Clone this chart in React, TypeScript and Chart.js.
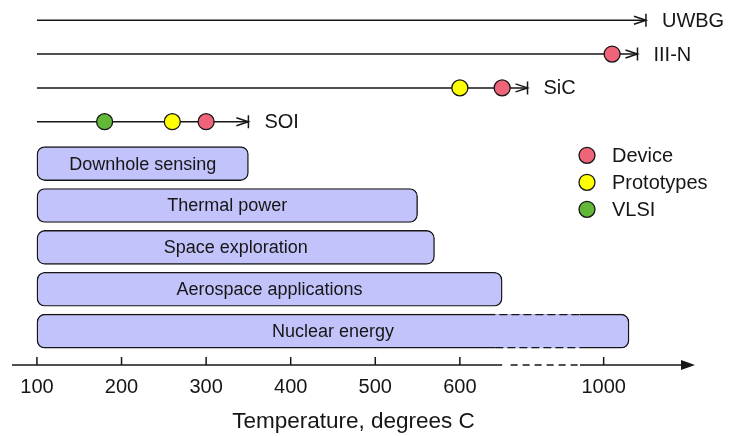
import React, { useEffect, useRef } from 'react';
import { Chart, registerables } from 'chart.js';

Chart.register(...registerables);

// ---------- data ----------
const APPLICATIONS = ['Downhole sensing', 'Thermal power', 'Space exploration', 'Aerospace applications', 'Nuclear energy'];
const APP_FROM = [100, 100, 100, 100, 100];
const APP_TO = [350, 550, 570, 650, 1030];

const TECHNOLOGIES = ['UWBG', 'III-N', 'SiC', 'SOI'];
const TECH_FROM = [100, 100, 100, 100];
const TECH_TO = [1050, 1040, 680, 350];

const DEVICE_TECH = ['III-N', 'SiC', 'SOI'];
const DEVICE_TEMP = [1010, 650, 300];
const PROTO_TECH = ['SiC', 'SOI'];
const PROTO_TEMP = [600, 260];
const VLSI_TECH = ['SOI'];
const VLSI_TEMP = [180];

const TICK_TEMPS = [100, 200, 300, 400, 500, 600, 1000];

// ---------- styling / axis break ----------
const FONT = "'Liberation Sans', Arial, Helvetica, sans-serif";
const INK = '#161616';
const BAR_FILL = '#c3c3fb';
const RED = '#f0647a';
const YELLOW = '#ffff00';
const GREEN = '#63b83a';

const BREAK_SHIFT = 230; // temperatures above the break are shifted left
const toAxis = (t: number) => (t > 800 ? t - BREAK_SHIFT : t);
const BREAK_START = 650;
const BREAK_DASH_START = 660;
const BREAK_END = 742;

const techRow = (name: string) => {
  const i = TECHNOLOGIES.indexOf(name);
  return 5 + (TECHNOLOGIES.length - 1 - i) * 0.8076;
};
const appRow = (i: number) => APPLICATIONS.length - 1 - i;

const decorPlugin = {
  id: 'decor',
  afterDatasetsDraw(chart: any) {
    const ctx = chart.ctx as CanvasRenderingContext2D;
    const xs = chart.scales.x;
    const ys = chart.scales.y;
    const area = chart.chartArea;
    ctx.save();

    // dashed border of the last bar within the axis break
    const barMeta = chart.getDatasetMeta(0);
    const last = barMeta.data[APPLICATIONS.length - 1];
    if (last) {
      const p = last.getProps(['x', 'base', 'y', 'height'], true);
      const a = xs.getPixelForValue(BREAK_START - 8);
      const b = xs.getPixelForValue(BREAK_END);
      const top = p.y - p.height / 2;
      const bot = p.y + p.height / 2;
      ctx.fillStyle = '#ffffff';
      ctx.fillRect(a, top - 2, b - a, 2);
      ctx.fillRect(a, bot, b - a, 2);
      ctx.fillStyle = BAR_FILL;
      ctx.fillRect(a, top, b - a, 2);
      ctx.fillRect(a, bot - 2, b - a, 2);
      ctx.strokeStyle = INK;
      ctx.lineWidth = 1.4;
      ctx.setLineDash([8, 4]);
      ctx.beginPath();
      ctx.moveTo(a + 4, top + 0.5);
      ctx.lineTo(b, top + 0.5);
      ctx.moveTo(a, bot - 0.5);
      ctx.lineTo(b, bot - 0.5);
      ctx.stroke();
      ctx.setLineDash([]);
    }

    // bar labels
    ctx.fillStyle = INK;
    ctx.font = `18px ${FONT}`;
    ctx.textAlign = 'center';
    ctx.textBaseline = 'middle';
    barMeta.data.forEach((el: any, i: number) => {
      const p = el.getProps(['x', 'base', 'y'], true);
      ctx.fillText(APPLICATIONS[i], (p.x + p.base) / 2, p.y + 1);
    });

    // technology line ends and names
    ctx.strokeStyle = INK;
    ctx.lineWidth = 1.5;
    ctx.font = `20px ${FONT}`;
    ctx.textAlign = 'left';
    TECHNOLOGIES.forEach((name, i) => {
      const px = xs.getPixelForValue(toAxis(TECH_TO[i]));
      const py = ys.getPixelForValue(techRow(name));
      ctx.beginPath();
      ctx.moveTo(px - 12, py - 4);
      ctx.lineTo(px, py);
      ctx.lineTo(px - 12, py + 4);
      ctx.moveTo(px, py - 6.5);
      ctx.lineTo(px, py + 6.5);
      ctx.stroke();
      ctx.fillText(name, px + 16, py + 1);
    });

    // x axis line with break, ticks and arrow
    const yAx = area.bottom;
    const pA = xs.getPixelForValue(BREAK_START);
    const pD = xs.getPixelForValue(BREAK_DASH_START);
    const pB = xs.getPixelForValue(BREAK_END);
    ctx.lineWidth = 1.5;
    ctx.beginPath();
    ctx.moveTo(area.left, yAx);
    ctx.lineTo(pA, yAx);
    ctx.moveTo(pB, yAx);
    ctx.lineTo(area.right - 12, yAx);
    ctx.stroke();
    ctx.setLineDash([7, 5]);
    ctx.beginPath();
    ctx.moveTo(pD, yAx);
    ctx.lineTo(pB, yAx);
    ctx.stroke();
    ctx.setLineDash([]);
    ctx.fillStyle = INK;
    ctx.beginPath();
    ctx.moveTo(area.right, yAx);
    ctx.lineTo(area.right - 14, yAx - 5);
    ctx.lineTo(area.right - 14, yAx + 5);
    ctx.closePath();
    ctx.fill();
    ctx.beginPath();
    xs.ticks.forEach((t: any) => {
      const px = xs.getPixelForValue(t.value);
      ctx.moveTo(px, yAx - 8);
      ctx.lineTo(px, yAx);
    });
    ctx.stroke();

    // legend
    const lx = area.right - 108;
    const ly = area.top + 146;
    ctx.font = `20px ${FONT}`;
    ctx.textAlign = 'left';
    ctx.textBaseline = 'middle';
    [5, 6, 7].forEach((di, k) => {
      const ds = chart.data.datasets[di];
      const cy = ly + k * 27;
      ctx.beginPath();
      ctx.arc(lx, cy, 8, 0, Math.PI * 2);
      ctx.fillStyle = ds.backgroundColor;
      ctx.fill();
      ctx.lineWidth = 1.3;
      ctx.strokeStyle = INK;
      ctx.stroke();
      ctx.fillStyle = INK;
      ctx.fillText(ds.label, lx + 25, cy + 1);
    });

    ctx.restore();
  },
};

const pointSet = (label: string, techs: string[], temps: number[], color: string) => ({
  type: 'scatter' as const,
  label,
  data: techs.map((t, i) => ({ x: toAxis(temps[i]), y: techRow(t) })),
  backgroundColor: color,
  borderColor: INK,
  pointRadius: 8,
  pointBorderWidth: 1.3,
  pointHoverRadius: 8,
  showLine: false,
  order: 0,
});

export default function App() {
  const ref = useRef<HTMLCanvasElement>(null);

  useEffect(() => {
    if (!ref.current) return;
    const datasets: any[] = [
      {
        type: 'bar',
        label: 'Applications',
        indexAxis: 'y',
        data: APPLICATIONS.map((_, i) => ({ x: [toAxis(APP_FROM[i]), toAxis(APP_TO[i])], y: appRow(i) })),
        backgroundColor: BAR_FILL,
        borderColor: INK,
        borderWidth: 1.4,
        borderRadius: 8,
        borderSkipped: false,
        barThickness: 34,
        order: 3,
      },
      ...TECHNOLOGIES.map((name, i) => ({
        type: 'line',
        label: name,
        data: [
          { x: toAxis(TECH_FROM[i]), y: techRow(name) },
          { x: toAxis(TECH_TO[i]), y: techRow(name) },
        ],
        borderColor: INK,
        borderWidth: 1.5,
        pointRadius: 0,
        showLine: true,
        fill: false,
        order: 2,
      })),
      pointSet('Device', DEVICE_TECH, DEVICE_TEMP, RED),
      pointSet('Prototypes', PROTO_TECH, PROTO_TEMP, YELLOW),
      pointSet('VLSI', VLSI_TECH, VLSI_TEMP, GREEN),
    ];

    const chart = new Chart(ref.current, {
      type: 'bar',
      data: { datasets },
      options: {
        animation: false,
        responsive: true,
        maintainAspectRatio: false,
        events: [],
        layout: { padding: { left: 12, right: 38, top: 4, bottom: 0 } },
        plugins: { legend: { display: false }, tooltip: { enabled: false } },
        scales: {
          x: {
            type: 'linear',
            min: 70.5,
            max: 878,
            offset: false,
            afterBuildTicks: (s: any) => {
              s.ticks = TICK_TEMPS.map((t) => ({ value: toAxis(t) }));
            },
            ticks: {
              autoSkip: false,
              maxRotation: 0,
              padding: 10.5,
              color: INK,
              font: { family: FONT, size: 20 },
              callback: (_v: any, i: number) => String(TICK_TEMPS[i]),
            },
            grid: { display: false, drawTicks: false },
            border: { display: false },
            title: {
              display: true,
              text: 'Temperature, degrees C',
              color: INK,
              font: { family: FONT, size: 22.5 },
              padding: { top: -1.5, bottom: 0.5 },
            },
          },
          y: {
            type: 'linear',
            min: -0.808,
            max: 7.684,
            offset: false,
            display: false,
          },
        },
      } as any,
      plugins: [decorPlugin],
    });
    return () => chart.destroy();
  }, []);

  return (
    <div style={{ position: 'fixed', left: 0, top: 0, width: 733, height: 436, background: '#ffffff' }}>
      <canvas ref={ref} />
    </div>
  );
}
